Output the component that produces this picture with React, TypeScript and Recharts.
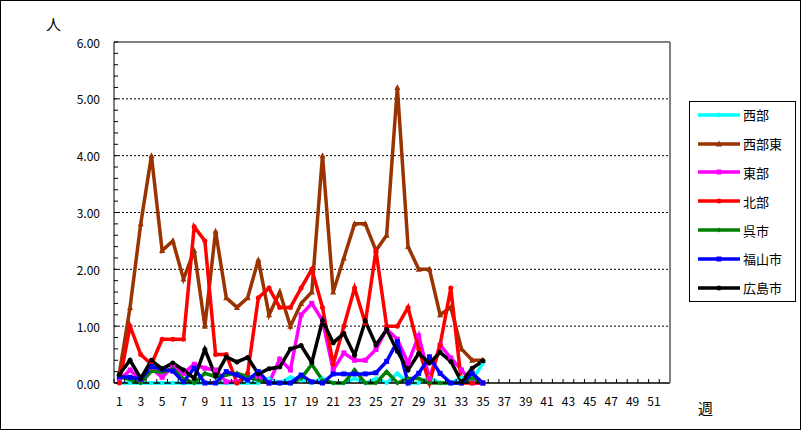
import React from "react";
import { LineChart, Line, XAxis, YAxis, ReferenceLine, Legend } from "recharts";

// weeks on the x axis (category axis, 1..52)
const weeks = [
    1, 2, 3, 4, 5, 6, 7, 8, 9, 10, 11, 12, 13, 14, 15, 16, 17, 18, 19, 20, 21, 22, 23, 24, 25, 26,
    27, 28, 29, 30, 31, 32, 33, 34, 35, 36, 37, 38, 39, 40, 41, 42, 43, 44, 45, 46, 47, 48, 49, 50, 51, 52,
];

// values per week (only weeks 1..35 reported)
const seibu = [
    0, 0, 0, 0, 0, 0, 0, 0, 0, 0, 0, 0, 0, 0, 0.08, 0, 0.1, 0.05, 0, 0.08, 0, 0, 0.08, 0, 0.08, 0, 0.17,
    0, 0, 0.1, 0, 0, 0.1, 0.05, 0.35,
];
const seibuHigashi = [
    0.17, 1.33, 2.8, 4.0, 2.33, 2.5, 1.83, 2.33, 1.0, 2.67, 1.5, 1.33, 1.5, 2.17, 1.2, 1.6, 1.0, 1.4, 1.6,
    4.0, 1.6, 2.2, 2.8, 2.8, 2.33, 2.6, 5.2, 2.4, 2.0, 2.0, 1.2, 1.33, 0.6, 0.4, 0.4,
];
const higashi = [
    0.05, 0.23, 0.05, 0.26, 0.1, 0.29, 0.17, 0.33, 0.26, 0.23, 0.02, 0.02, 0.1, 0.1, 0, 0.42, 0.23, 1.2,
    1.4, 1.1, 0.23, 0.53, 0.4, 0.4, 0.59, 0.95, 0.77, 0.35, 0.83, 0.08, 0.67, 0.44, 0.23, 0, 0,
];
const hokubu = [
    0, 1.0, 0.5, 0.33, 0.77, 0.77, 0.77, 2.75, 2.5, 0.5, 0.5, 0, 0.17, 1.5, 1.67, 1.33, 1.33, 1.67, 2.0,
    1.33, 0.33, 1.0, 1.67, 1.05, 2.33, 1.0, 1.0, 1.33, 0.6, 0, 0.67, 1.67, 0, 0, 0,
];
const kure = [
    0.11, 0.06, 0, 0.21, 0.19, 0.25, 0.07, 0, 0.17, 0.11, 0.14, 0.17, 0.11, 0.05, 0, 0, 0, 0.08, 0.33,
    0.05, 0, 0, 0.23, 0, 0, 0.2, 0, 0.08, 0.08, 0, 0, 0, 0, 0.08, 0,
];
const fukuyama = [
    0.11, 0.1, 0.07, 0.29, 0.24, 0.21, 0.02, 0.26, 0, 0, 0.2, 0.14, 0.05, 0.2, 0, 0, 0, 0.14, 0.02, 0,
    0.16, 0.16, 0.16, 0.16, 0.18, 0.38, 0.73, 0, 0.17, 0.46, 0.17, 0, 0, 0.17, 0,
];
const hiroshima = [
    0.15, 0.4, 0.08, 0.4, 0.25, 0.35, 0.23, 0.08, 0.59, 0.12, 0.46, 0.37, 0.45, 0.16, 0.25, 0.28, 0.6,
    0.66, 0.36, 1.1, 0.71, 0.87, 0.49, 1.09, 0.67, 0.94, 0.56, 0.23, 0.52, 0.35, 0.54, 0.38, 0.02, 0.26,
    0.39,
];

const yMajor = [0, 1, 2, 3, 4, 5, 6];
const yGrid = [1, 2, 3, 4, 5];
const yMinor = Array.from({ length: 31 }, (_, i) => i * 0.2);

type Shape = "circle" | "square" | "triangle" | "diamond";

const SERIES: { key: string; name: string; color: string; shape: Shape; values: number[] }[] = [
    { key: "seibu", name: "西部", color: "#00FFFF", shape: "diamond", values: seibu },
    { key: "seibuHigashi", name: "西部東", color: "#993300", shape: "triangle", values: seibuHigashi },
    { key: "higashi", name: "東部", color: "#FF00FF", shape: "square", values: higashi },
    { key: "hokubu", name: "北部", color: "#FF0000", shape: "circle", values: hokubu },
    { key: "kure", name: "呉市", color: "#008000", shape: "diamond", values: kure },
    { key: "fukuyama", name: "福山市", color: "#0000FF", shape: "square", values: fukuyama },
    { key: "hiroshima", name: "広島市", color: "#000000", shape: "circle", values: hiroshima },
];

const data = weeks.map((w, i) => {
    const row: Record<string, number | null> = { week: w };
    SERIES.forEach((s) => {
        row[s.key] = i < s.values.length ? s.values[i] : null;
    });
    return row;
});

// layout
const W = 801;
const H = 430;
const Y_AXIS_W = 114;
const X_AXIS_H = 47;
const MARGIN = { top: 42, right: 130, bottom: 0, left: 0 };
const PLOT_W = W - MARGIN.left - MARGIN.right - Y_AXIS_W - 1;
const BAND = PLOT_W / weeks.length;
const FONT = '"Noto Sans CJK JP", "Noto Sans", sans-serif';

function Marker({ cx, cy, shape, color, size = 5 }: { cx?: number; cy?: number; shape: Shape; color: string; size?: number }) {
    if (cx == null || cy == null || isNaN(cy)) return <g />;
    const h = size / 2;
    switch (shape) {
        case "square":
            return <rect x={cx - h} y={cy - h} width={size} height={size} fill={color} />;
        case "triangle":
            return <polygon points={`${cx},${cy - h - 1} ${cx - h - 0.5},${cy + h} ${cx + h + 0.5},${cy + h}`} fill={color} />;
        case "diamond":
            return <polygon points={`${cx},${cy - h} ${cx + h},${cy} ${cx},${cy + h} ${cx - h},${cy}`} fill={color} />;
        default:
            return <circle cx={cx} cy={cy} r={h} fill={color} />;
    }
}

function XTick({ x, y, payload }: any) {
    const w = payload.value as number;
    const axisY = y - 17;
    const left = x - BAND / 2;
    return (
        <g>
            <line x1={left} x2={left} y1={axisY} y2={axisY - 4} stroke="#000" />
            {w % 2 === 1 && (
                <text x={x} y={y} textAnchor="middle" dominantBaseline="central" fontSize={12} fill="#000" fontFamily={FONT}>
                    {w}
                </text>
            )}
        </g>
    );
}

function YTick({ x, y, payload }: any) {
    const v = payload.value as number;
    const axisX = x + 14;
    const isMajor = yMajor.some((m) => Math.abs(m - v) < 1e-6);
    return (
        <g>
            <line x1={axisX} x2={axisX + 4} y1={y} y2={y} stroke="#000" />
            {isMajor && (
                <text x={x} y={y} textAnchor="end" dominantBaseline="central" fontSize={12} fill="#000" fontFamily={FONT}>
                    {Math.round(v).toFixed(2)}
                </text>
            )}
        </g>
    );
}

function LegendBox() {
    return (
        <div style={styles.legend}>
            <div style={{ position: "relative", top: -1.5 }}>
                {SERIES.map((s) => (
                    <div key={s.key} style={styles.legendRow}>
                        <svg width={50} height={12} style={{ flex: "none" }}>
                            <line x1={8} x2={50} y1={6} y2={6} stroke={s.color} strokeWidth={3.5} />
                            <Marker cx={29} cy={6} shape={s.shape} color={s.color} />
                        </svg>
                        <span style={styles.legendText}>{s.name}</span>
                    </div>
                ))}
            </div>
        </div>
    );
}

export default function App() {
    return (
        <div style={styles.page}>
            <LineChart width={W} height={H} data={data} margin={MARGIN}>
                <XAxis
                    dataKey="week"
                    interval={0}
                    padding={{ left: BAND / 2, right: BAND / 2 }}
                    tickSize={0}
                    tickMargin={17}
                    height={X_AXIS_H}
                    tick={<XTick />}
                    axisLine={{ stroke: "#000", strokeWidth: 1.5 }}
                />
                <YAxis
                    domain={[0, 6]}
                    ticks={yMinor}
                    interval={0}
                    width={Y_AXIS_W}
                    tickSize={0}
                    tickMargin={14}
                    tick={<YTick />}
                    axisLine={{ stroke: "#000" }}
                />
                <YAxis yAxisId="r" orientation="right" width={1} tick={false} tickLine={false} axisLine={{ stroke: "#808080", strokeWidth: 2 }} />
                {yGrid.map((g) => (
                    <ReferenceLine key={g} y={g} stroke="#000" strokeDasharray="2 2" strokeWidth={1} />
                ))}
                <ReferenceLine y={6} stroke="#808080" strokeWidth={2} />
                <Legend
                    layout="vertical"
                    align="center"
                    verticalAlign="middle"
                    wrapperStyle={{ left: 689, top: 101, width: 107, height: 201 }}
                    content={() => <LegendBox />}
                />
                {SERIES.map((s) => (
                    <Line
                        key={s.key}
                        dataKey={s.key}
                        name={s.name}
                        stroke={s.color}
                        strokeWidth={3.5}
                        isAnimationActive={false}
                        dot={(p: any) => <Marker key={`${s.key}-${p.index}`} cx={p.cx} cy={p.cy} shape={s.shape} color={s.color} />}
                        activeDot={false}
                    />
                ))}
            </LineChart>
            <div style={{ ...styles.axisLabel, left: 46, top: 16, fontSize: 15 }}>人</div>
            <div style={{ ...styles.axisLabel, left: 698, top: 400, fontSize: 15 }}>週</div>
            <div style={styles.frame} />
        </div>
    );
}

const styles: Record<string, React.CSSProperties> = {
    page: {
        position: "fixed",
        left: 0,
        top: 0,
        width: W,
        height: H,
        background: "#fff",
        fontFamily: FONT,
    },
    frame: {
        position: "absolute",
        inset: 0,
        border: "1px solid #000",
        pointerEvents: "none",
    },
    axisLabel: {
        position: "absolute",
        lineHeight: 1,
        color: "#000",
    },
    legend: {
        width: 107,
        height: 201,
        boxSizing: "border-box",
        border: "1px solid #000",
        background: "#fff",
    },
    legendRow: {
        display: "flex",
        alignItems: "center",
        height: 28.8,
    },
    legendText: {
        fontSize: 13,
        color: "#000",
        marginLeft: 3,
        whiteSpace: "nowrap",
    },
};
